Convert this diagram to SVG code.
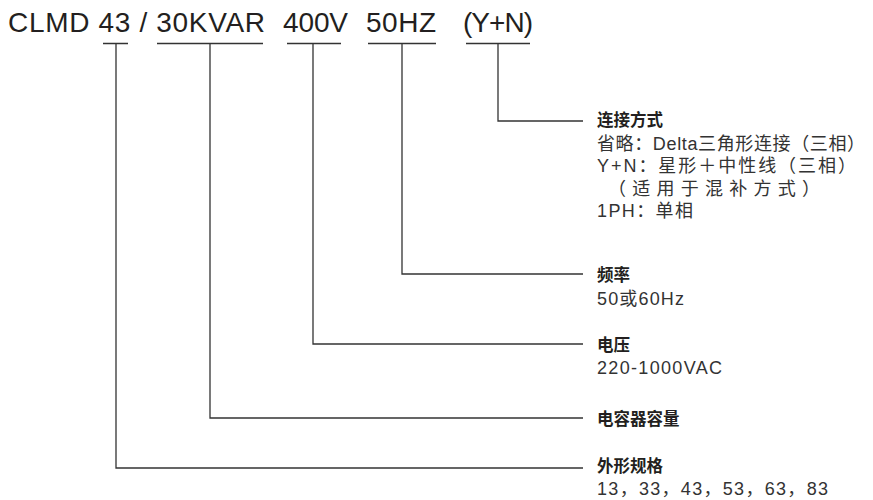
<svg xmlns="http://www.w3.org/2000/svg" width="873" height="500" viewBox="0 0 873 500">
<style>
.title{font-family:"Liberation Sans","Noto Sans CJK SC",sans-serif;font-size:28px;fill:#231f20}
.lbl{font-family:"Liberation Sans","Noto Sans CJK SC",sans-serif;font-size:16.5px;font-weight:bold;fill:#231f20}
.desc{font-family:"Liberation Sans","Noto Sans CJK SC",sans-serif;font-size:18px;fill:#333}
.ln{fill:none;stroke:#333;stroke-width:1.3}
</style>
<rect width="873" height="500" fill="#fff"/>
<g id="title">
<text class="title" y="32"><tspan x="8" textLength="257" lengthAdjust="spacing">CLMD 43 / 30KVAR</tspan><tspan x="283" textLength="65" lengthAdjust="spacing">400V</tspan><tspan x="366" textLength="70" lengthAdjust="spacing">50HZ</tspan><tspan x="463" textLength="70" lengthAdjust="spacing">(Y+N)</tspan></text>
</g>
<g id="connectors">
<path class="ln" d="M103 43.5H128M116 43.5V468H583"/>
<path class="ln" d="M157 43.5H263M210 43.5V418H583"/>
<path class="ln" d="M287 43.5H341M313 43.5V344H583"/>
<path class="ln" d="M368 43.5H436M402 43.5V274H583"/>
<path class="ln" d="M466 43.5H530M498 43.5V121H583"/>
</g>
<g id="node-connection">
<text class="lbl" x="597" y="126">连接方式</text>
<text class="desc" x="597" y="150" textLength="268" lengthAdjust="spacing">省略：Delta三角形连接（三相）</text>
<text class="desc" x="597" y="172" textLength="259" lengthAdjust="spacing">Y+N：星形＋中性线（三相）</text>
<text class="desc" x="608" y="195" textLength="212" lengthAdjust="spacing">（适用于混补方式）</text>
<text class="desc" x="597" y="217" textLength="96" lengthAdjust="spacing">1PH：单相</text>
</g>
<g id="node-frequency">
<text class="lbl" x="597" y="281">频率</text>
<text class="desc" x="597" y="305" textLength="87" lengthAdjust="spacing">50或60Hz</text>
</g>
<g id="node-voltage">
<text class="lbl" x="597" y="351">电压</text>
<text class="desc" x="597" y="374" textLength="125" lengthAdjust="spacing">220-1000VAC</text>
</g>
<g id="node-capacity">
<text class="lbl" x="597" y="425">电容器容量</text>
</g>
<g id="node-size">
<text class="lbl" x="597" y="472">外形规格</text>
<text class="desc" x="597" y="495" textLength="231" lengthAdjust="spacing">13，33，43，53，63，83</text>
</g>
</svg>
